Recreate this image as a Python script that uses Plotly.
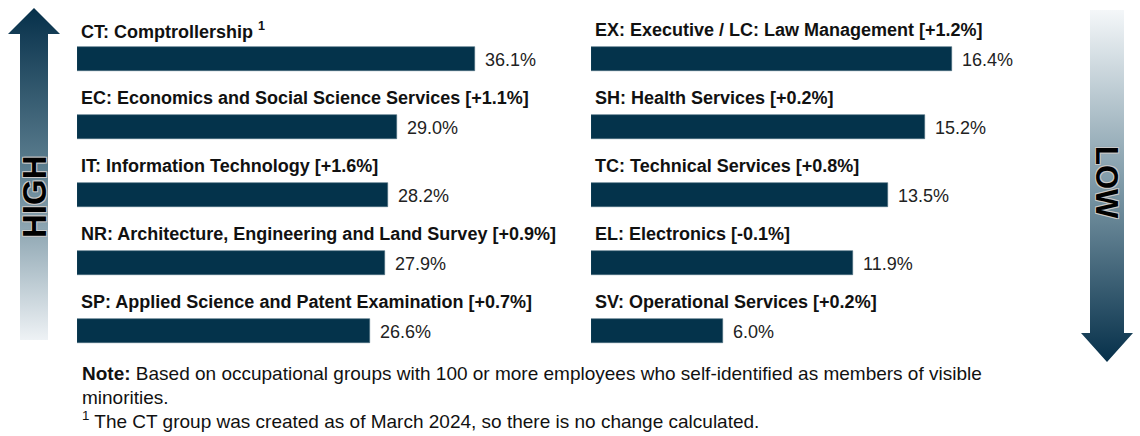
import base64
import plotly.graph_objects as go

# ---------------- data ----------------
left_labels = [
    "CT: Comptrollership <sup>1</sup>",
    "EC: Economics and Social Science Services [+1.1%]",
    "IT: Information Technology [+1.6%]",
    "NR: Architecture, Engineering and Land Survey [+0.9%]",
    "SP: Applied Science and Patent Examination [+0.7%]",
]
left_values = [36.1, 29.0, 28.2, 27.9, 26.6]

right_labels = [
    "EX: Executive / LC: Law Management [+1.2%]",
    "SH: Health Services [+0.2%]",
    "TC: Technical Services [+0.8%]",
    "EL: Electronics [-0.1%]",
    "SV: Operational Services [+0.2%]",
]
right_values = [16.4, 15.2, 13.5, 11.9, 6.0]

note_lines = [
    "<b>Note:</b> Based on occupational groups with 100 or more employees who self-identified as members of visible",
    "minorities.",
    "<sup>1</sup> The CT group was created as of March 2024, so there is no change calculated.",
]

# ---------------- styling ----------------
W, H = 1140, 436
BAR = "#04334b"
FONT = "Liberation Sans, Arial, sans-serif"

def px_x(x):
    return x / W

def px_y(y):
    return 1 - y / H

fig = go.Figure()
rows = list(range(len(left_values)))

fig.add_trace(go.Bar(
    x=left_values, y=rows, orientation="h", xaxis="x", yaxis="y",
    marker=dict(color=BAR, line=dict(color="#4a6b7d", width=0.6)),
    width=0.353, hoverinfo="skip", showlegend=False,
))
fig.add_trace(go.Bar(
    x=right_values, y=rows, orientation="h", xaxis="x2", yaxis="y2",
    marker=dict(color=BAR, line=dict(color="#4a6b7d", width=0.6)),
    width=0.353, hoverinfo="skip", showlegend=False,
))

ydom = [px_y(365), px_y(25)]
axis_off = dict(showgrid=False, zeroline=False, showticklabels=False,
                showline=False, ticks="", fixedrange=True)
fig.update_layout(
    width=W, height=H, margin=dict(l=0, r=0, t=0, b=0),
    paper_bgcolor="white", plot_bgcolor="white",
    xaxis=dict(domain=[px_x(77), px_x(518)], range=[0, 40], **axis_off),
    xaxis2=dict(domain=[px_x(591), px_x(1031)], range=[0, 20], anchor="y2", **axis_off),
    yaxis=dict(domain=ydom, range=[4.5, -0.5], **axis_off),
    yaxis2=dict(domain=ydom, range=[4.5, -0.5], anchor="x2", **axis_off),
    bargap=0,
)

ann = []
for xr, yr, labels, values in (("x", "y", left_labels, left_values),
                               ("x2", "y2", right_labels, right_values)):
    for i, (lab, v) in enumerate(zip(labels, values)):
        ann.append(dict(xref=xr, yref=yr, x=0, y=i, text="<b>" + lab + "</b>",
                        xanchor="left", yanchor="middle", xshift=2, yshift=29,
                        showarrow=False, font=dict(family=FONT, size=18, color="#111111")))
        ann.append(dict(xref=xr, yref=yr, x=v, y=i, text=f"{v:.1f}%",
                        xanchor="left", yanchor="middle", xshift=8, yshift=-1,
                        showarrow=False, font=dict(family=FONT, size=18, color="#222222")))

for yy, line in zip((373, 397, 420), note_lines):
    ann.append(dict(xref="paper", yref="paper", x=px_x(80), y=px_y(yy), text=line,
                    xanchor="left", yanchor="middle", showarrow=False, align="left",
                    font=dict(family=FONT, size=19, color="#111111")))

outline = ("-1px -1px 0 #c8c8c8, 1px -1px 0 #c8c8c8, -1px 1px 0 #c8c8c8, "
           "1px 1px 0 #c8c8c8, 0 0 2px #666")
ann.append(dict(xref="paper", yref="paper", x=px_x(34), y=px_y(197), text="<b>HIGH</b>",
                textangle=-90, xanchor="center", yanchor="middle", showarrow=False,
                font=dict(family=FONT, size=33, color="#000000", shadow=outline)))
ann.append(dict(xref="paper", yref="paper", x=px_x(1107), y=px_y(182), text="<b>LOW</b>",
                textangle=90, xanchor="center", yanchor="middle", showarrow=False,
                font=dict(family=FONT, size=31, color="#000000", shadow=outline)))
fig.update_layout(annotations=ann)

# ---------------- gradient arrows (decoration) ----------------
def svg_uri(svg):
    return "data:image/svg+xml;base64," + base64.b64encode(svg.encode()).decode()

up_svg = (
    '<svg xmlns="http://www.w3.org/2000/svg" width="52" height="332" viewBox="0 0 52 332" '
    'preserveAspectRatio="none"><defs><linearGradient id="g" x1="0" y1="0" x2="0" y2="1">'
    '<stop offset="0" stop-color="#06304a"/><stop offset="0.5" stop-color="#5f8192"/>'
    '<stop offset="1" stop-color="#eef2f5"/></linearGradient></defs>'
    '<path d="M26 0 L52 26 L40 26 L40 332 L12 332 L12 26 L0 26 Z" fill="url(#g)"/></svg>'
)
down_svg = (
    '<svg xmlns="http://www.w3.org/2000/svg" width="52" height="352" viewBox="0 0 52 352" '
    'preserveAspectRatio="none"><defs><linearGradient id="g" x1="0" y1="0" x2="0" y2="1">'
    '<stop offset="0" stop-color="#f4f7f9"/><stop offset="0.5" stop-color="#7d99a7"/>'
    '<stop offset="1" stop-color="#06304a"/></linearGradient></defs>'
    '<path d="M9 0 L43 0 L43 323 L52 323 L26 352 L0 323 L9 323 Z" fill="url(#g)"/></svg>'
)

fig.update_layout(images=[
    dict(source=svg_uri(up_svg), xref="paper", yref="paper", x=px_x(8), y=px_y(8),
         sizex=52 / W, sizey=332 / H, xanchor="left", yanchor="top",
         sizing="stretch", layer="below"),
    dict(source=svg_uri(down_svg), xref="paper", yref="paper", x=px_x(1081), y=px_y(10),
         sizex=52 / W, sizey=352 / H, xanchor="left", yanchor="top",
         sizing="stretch", layer="below"),
])

fig.write_html("out.html", config={"displayModeBar": False},
               post_script="document.body.style.margin='0';")
